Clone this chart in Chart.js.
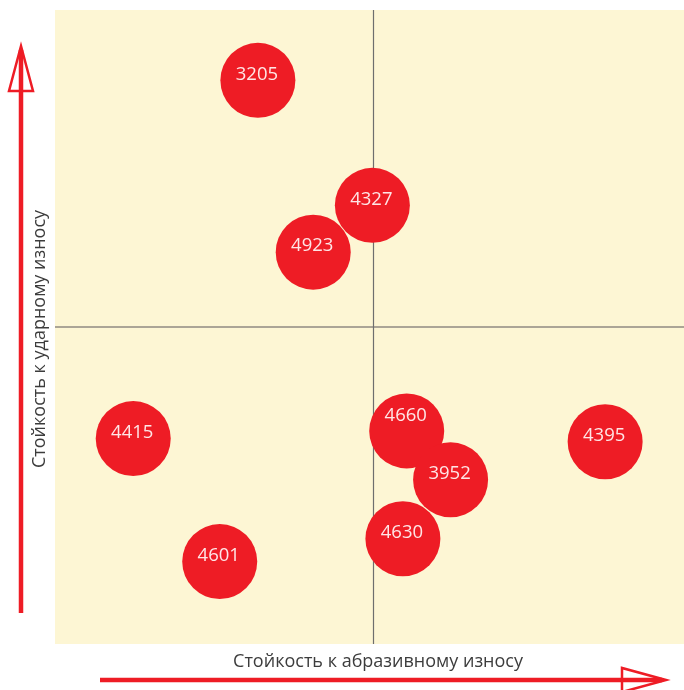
<!DOCTYPE html>
<html>
<head>
<meta charset="utf-8">
<script src="https://cdn.jsdelivr.net/npm/chart.js@4/dist/chart.umd.min.js"></script>
<style>
  html, body { margin: 0; padding: 0; background: #ffffff; overflow: hidden; }
  #wrap { width: 700px; height: 690px; }
</style>
</head>
<body>
<div id="wrap"><canvas id="chart" width="700" height="690"></canvas></div>
<script>
// Data (axis units 0..10, midlines at 5)
const labels  = ['3205', '4327', '4923', '4415', '4660', '3952', '4395', '4630', '4601'];
const xValues = [3.19, 4.99, 4.06, 1.23, 5.53, 6.22, 8.65, 5.47, 2.59];
const yValues = [8.89, 6.92, 6.18, 3.24, 3.36, 2.59, 3.19, 1.66, 1.30];

const xTitle = 'Стойкость к абразивному износу';
const yTitle = 'Стойкость к ударному износу';

const RED = '#EE1C25';
const CREAM = '#FDF6D4';
const FONT = '"Open Sans", "Noto Sans", sans-serif';

// background, quadrant lines, arrows and axis captions
const quadrantPlugin = {
    id: 'quadrant',
    beforeDatasetsDraw(chart) {
        const { ctx, chartArea: a, scales } = chart;
        const cx = scales.x.getPixelForValue(5);
        const cy = scales.y.getPixelForValue(5);
        ctx.save();
        ctx.fillStyle = CREAM;
        ctx.fillRect(a.left, a.top, a.right - a.left, a.bottom - a.top);

        ctx.strokeStyle = '#ABA596';
        ctx.lineWidth = 2;
        ctx.beginPath();
        ctx.moveTo(a.left, cy);
        ctx.lineTo(a.right, cy);
        ctx.stroke();

        ctx.strokeStyle = '#6E6E6E';
        ctx.lineWidth = 1.2;
        ctx.beginPath();
        ctx.moveTo(Math.round(cx) + 0.5, a.top);
        ctx.lineTo(Math.round(cx) + 0.5, a.bottom);
        ctx.stroke();
        ctx.restore();
    },
    afterDatasetsDraw(chart) {
        const { ctx } = chart;
        const meta = chart.getDatasetMeta(0);
        ctx.save();
        ctx.fillStyle = 'rgba(255, 240, 240, 0.95)';
        ctx.font = '18.5px ' + FONT;
        ctx.textAlign = 'center';
        ctx.textBaseline = 'middle';
        meta.data.forEach((pt, i) => {
            const nudge = labels[i] === '4660' ? -15 : -6;
            ctx.fillText(labels[i], pt.x - 1, pt.y + nudge);
        });
        ctx.restore();
    },
    afterDraw(chart) {
        const { ctx } = chart;
        ctx.save();
        ctx.strokeStyle = RED;

        // vertical arrow
        ctx.lineWidth = 4.5;
        ctx.beginPath();
        ctx.moveTo(21, 613);
        ctx.lineTo(21, 50);
        ctx.stroke();
        ctx.lineWidth = 2.5;
        ctx.beginPath();
        ctx.moveTo(21, 46);
        ctx.lineTo(33, 91);
        ctx.lineTo(9, 91);
        ctx.closePath();
        ctx.stroke();

        // horizontal arrow
        ctx.lineWidth = 4.5;
        ctx.beginPath();
        ctx.moveTo(100, 680);
        ctx.lineTo(662, 680);
        ctx.stroke();
        ctx.lineWidth = 2.5;
        ctx.beginPath();
        ctx.moveTo(666, 680);
        ctx.lineTo(622, 668);
        ctx.lineTo(622, 692);
        ctx.closePath();
        ctx.stroke();

        // axis captions
        ctx.fillStyle = '#3C3C3C';
        ctx.font = '18px ' + FONT;
        ctx.textAlign = 'center';
        ctx.textBaseline = 'middle';
        ctx.fillText(xTitle, 378, 662);
        ctx.translate(40, 339);
        ctx.rotate(-Math.PI / 2);
        ctx.fillText(yTitle, 0, 0);
        ctx.restore();
    }
};

const points = labels.map((l, i) => ({ x: xValues[i], y: yValues[i] }));

new Chart(document.getElementById('chart'), {
    type: 'bubble',
    data: {
        datasets: [{
            label: 'sorts',
            data: points,
            backgroundColor: RED,
            borderColor: RED,
            borderWidth: 0,
            radius: 37.5,
            clip: false
        }]
    },
    options: {
        responsive: false,
        animation: false,
        events: [],
        layout: {
            autoPadding: false,
            padding: { left: 55, right: 9, top: 10, bottom: 46 }
        },
        plugins: {
            legend: { display: false },
            tooltip: { enabled: false }
        },
        scales: {
            x: { display: false, min: 0, max: 10 },
            y: { display: false, min: 0, max: 10 }
        }
    },
    plugins: [quadrantPlugin]
});
</script>
</body>
</html>
